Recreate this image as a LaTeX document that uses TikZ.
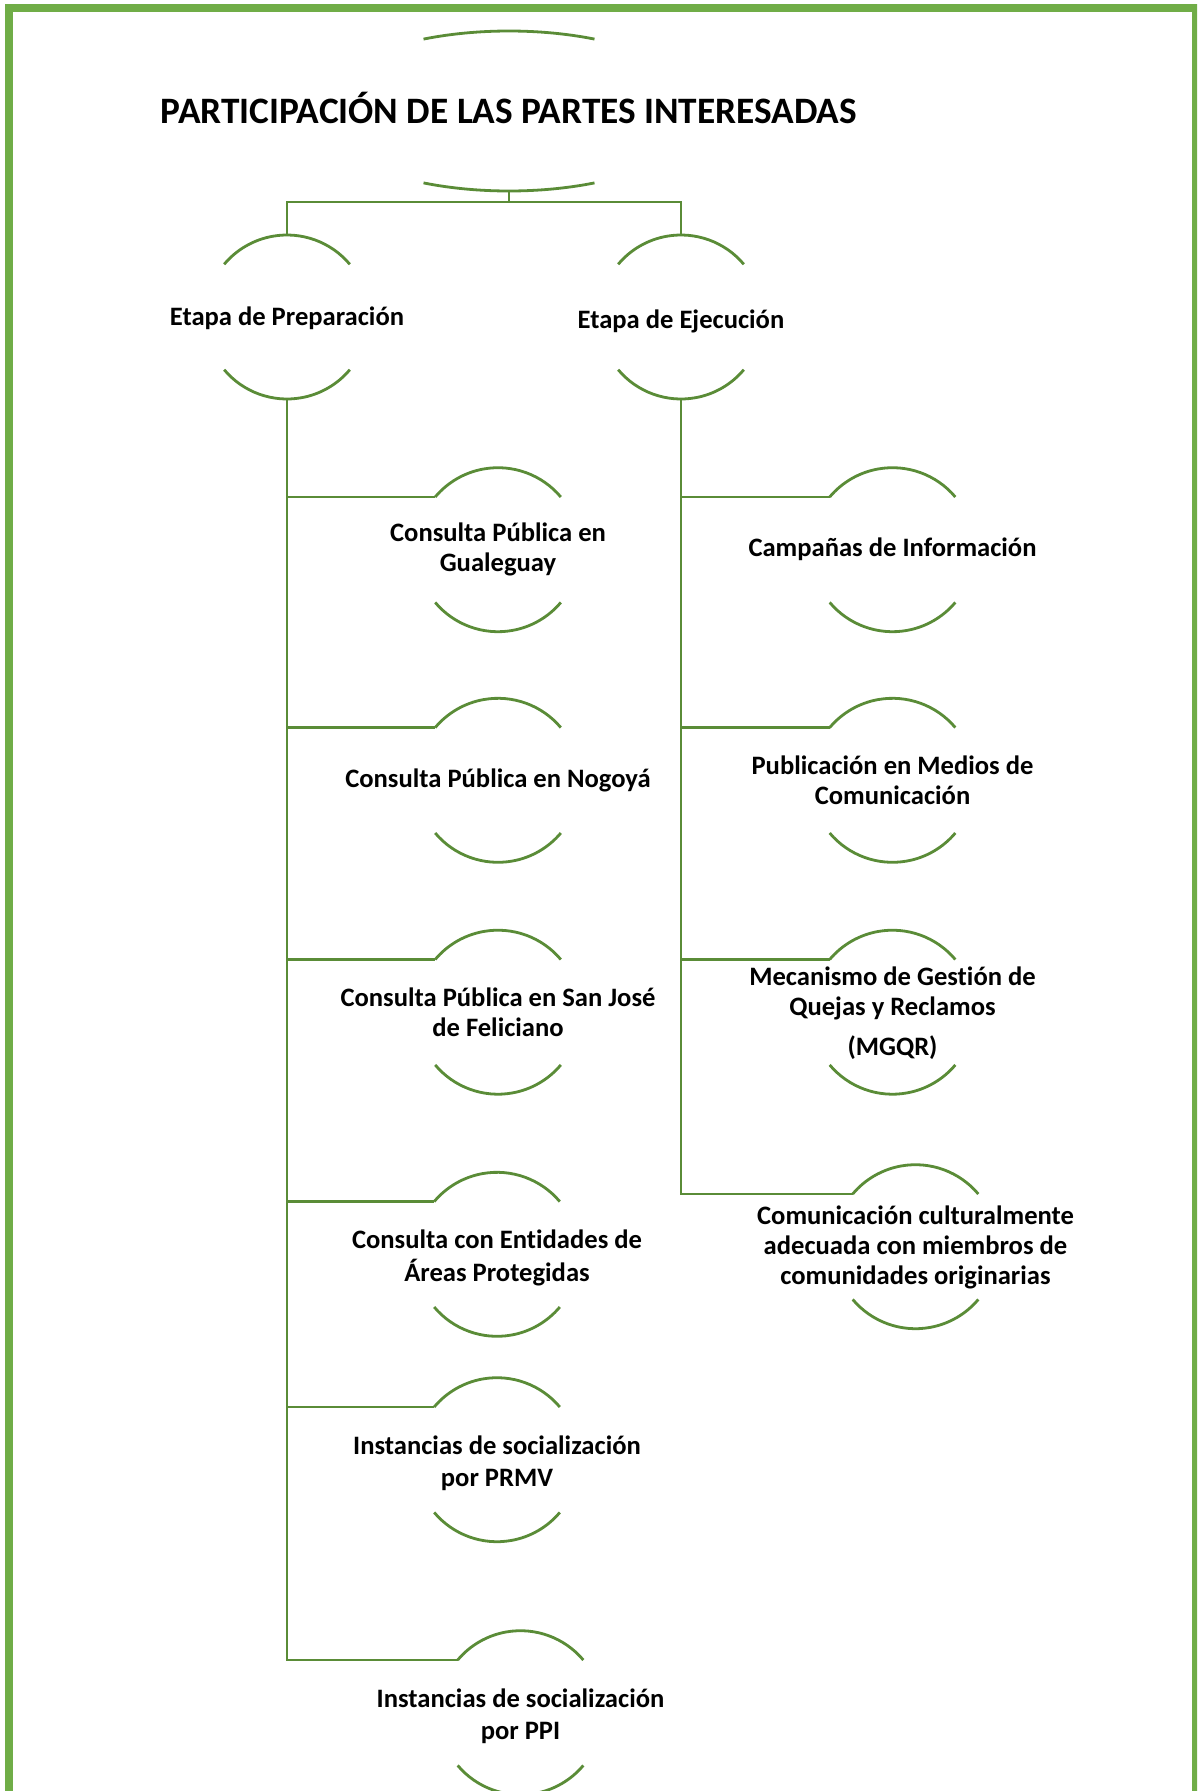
\documentclass[tikz,border=0pt]{standalone}
\usepackage{fontspec}
\setmainfont{Carlito}[Ligatures={NoCommon}]
\definecolor{framegreen}{RGB}{112,173,71}
\definecolor{linegreen}{RGB}{90,140,55}
\begin{document}
\begin{tikzpicture}[x=1pt,y=1pt,
  lbl/.style={font=\bfseries\fontsize{26.6}{30}\selectfont, align=center, inner sep=0pt, text=black},
  lblwide/.style={lbl, font=\bfseries\fontsize{26.6}{32.5}\selectfont},
  ttl/.style={font=\bfseries\fontsize{37.3}{40}\selectfont, inner sep=0pt, text=black},
  conn/.style={draw=linegreen, line width=2.8pt},
  arcline/.style={draw=linegreen, line width=2.8pt}]
\useasboundingbox (0,0) rectangle (1197,-1791);
\clip (0,0) rectangle (1197,-1791);
\fill[white] (0,0) rectangle (1197,-1791);
\draw[framegreen, line width=8pt] (9,-1800) -- (9,-8) -- (1196,-8) -- (1196,-1800);

% circle centres
\coordinate (rootc) at (509,-111);
\coordinate (prepc) at (287,-317);
\coordinate (execc) at (681,-317);
\coordinate (gualc) at (498,-549.7);
\coordinate (nogoc) at (498,-780.3);
\coordinate (sanjc) at (498,-1012.2);
\coordinate (entic) at (497,-1254.3);
\coordinate (prmvc) at (497,-1459.7);
\coordinate (ppic)  at (520.5,-1712.7);
\coordinate (campc) at (892.5,-549.7);
\coordinate (publc) at (892.5,-780.3);
\coordinate (mgqrc) at (892.5,-1012.2);
\coordinate (comuc) at (915.5,-1246.7);

% texts
\node[ttl] (root) at (509,-107.5) {PARTICIPACIÓN DE LAS PARTES INTERESADAS};
\node[lbl] (prep) at (287,-318.5) {Etapa de Preparación};
\node[lbl] (exec) at (681,-321) {Etapa de Ejecución};
\node[lbl] (gual) at (498,-549.7) {Consulta Pública en\\Gualeguay};
\node[lbl] (nogo) at (498,-780.3) {Consulta Pública en Nogoyá};
\node[lbl] (sanj) at (498,-1012.2) {Consulta Pública en San José\\de Feliciano};
\node[lblwide] (enti) at (497,-1257.7) {Consulta con Entidades de\\Áreas Protegidas};
\node[lblwide] (prmv) at (497,-1463.1) {Instancias de socialización\\por PRMV};
\node[lblwide] (ppi) at (520.5,-1716.1) {Instancias de socialización\\por PPI};
\node[lbl] (camp) at (892.5,-549.7) {Campañas de Información};
\node[lbl] (publ) at (892.5,-780.3) {Publicación en Medios de\\Comunicación};
\node[lbl] (mgqr) at (892.5,-1013.5) {Mecanismo de Gestión de\\Quejas y Reclamos\\[10pt](MGQR)};
\node[lbl] (comu) at (915.5,-1247.9) {Comunicación culturalmente\\adecuada con miembros de\\comunidades originarias};

% root arcs
\draw[arcline] ([shift={(64:195 and 80)}]rootc) arc[start angle=64, end angle=116, x radius=195, y radius=80];
\draw[arcline] ([shift={(244:195 and 80)}]rootc) arc[start angle=244, end angle=296, x radius=195, y radius=80];

% circle arcs
\foreach \n in {prep,exec,gual,nogo,sanj,enti,prmv,ppi,camp,publ,mgqr,comu}{
  \draw[arcline] ([shift={(40:82)}]\n c) arc[start angle=40,end angle=140,radius=82];
  \draw[arcline] ([shift={(220:82)}]\n c) arc[start angle=220,end angle=320,radius=82];
}

% connectors
\coordinate (rootbot) at ([yshift=-80pt]rootc);
\draw[conn] (rootbot) -- ++(0,-11) -| ([yshift=82pt]prepc);
\draw[conn] (rootbot) -- ++(0,-11) -| ([yshift=82pt]execc);
\foreach \c in {gual,nogo,sanj,enti,prmv,ppi}{
  \draw[conn] ([yshift=-82pt]prepc) |- ([shift={(140:82)}]\c c);
}
\foreach \c in {camp,publ,mgqr,comu}{
  \draw[conn] ([yshift=-82pt]execc) |- ([shift={(140:82)}]\c c);
}
\end{tikzpicture}
\end{document}
